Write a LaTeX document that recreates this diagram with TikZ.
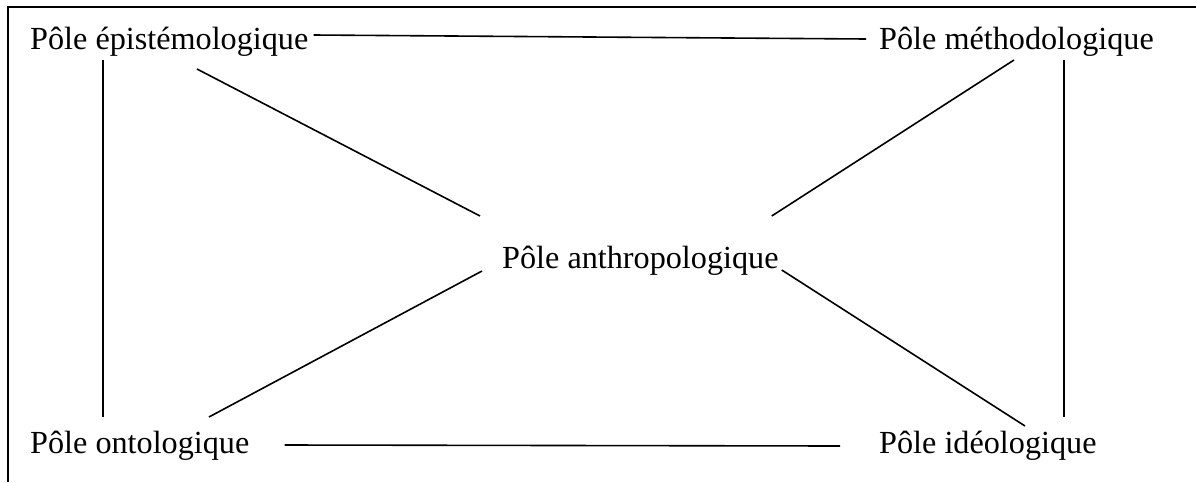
\documentclass[tikz,border=0pt]{standalone}
\usepackage{fontspec}
\setmainfont{Liberation Serif}
\usepackage{tikz}

\tikzset{
  pole/.style={inner sep=0pt, anchor=base west, font=\fontsize{32.2}{38}\selectfont},
  link/.style={line width=1.6pt},
  frameline/.style={line width=2.2pt}
}

\begin{document}
\begin{tikzpicture}[x=1pt, y=-1pt]
\useasboundingbox (0,0) rectangle (1196,482);
% cadre (haut et gauche seulement)
\draw[frameline] (8,482) -- (8,7) -- (1196,7);

\node[pole] (epi)  at (30,49)   {Pôle épistémologique};
\node[pole] (meth) at (879,49)  {Pôle méthodologique};
\node[pole] (anth) at (502,268) {Pôle anthropologique};
\node[pole] (onto) at (30,453)  {Pôle ontologique};
\node[pole] (ideo) at (879,453) {Pôle idéologique};

% liaisons
\draw[link] ([shift={(5,-14)}]epi.base east) -- ([shift={(-13,-10)}]meth.base west);
\draw[link] ([shift={(73,11)}]epi.base west) -- ([shift={(73,-36)}]onto.base west);
\draw[link] ([shift={(185,11)}]meth.base west) -- ([shift={(185,-36)}]ideo.base west);
\draw[link] ([shift={(167,20)}]epi.base west) -- ([shift={(-22,-52)}]anth.base west);
\draw[link] ([shift={(135,11)}]meth.base west) -- ([shift={(-7,-52)}]anth.base east);
\draw[link] ([shift={(-20,3)}]anth.base west) -- ([shift={(179,-36)}]onto.base west);
\draw[link] ([shift={(3,2)}]anth.base east) -- ([shift={(146,-27)}]ideo.base west);
\draw[link] ([shift={(35,-8)}]onto.base east) -- ([shift={(-39,-7)}]ideo.base west);
\end{tikzpicture}
\end{document}
